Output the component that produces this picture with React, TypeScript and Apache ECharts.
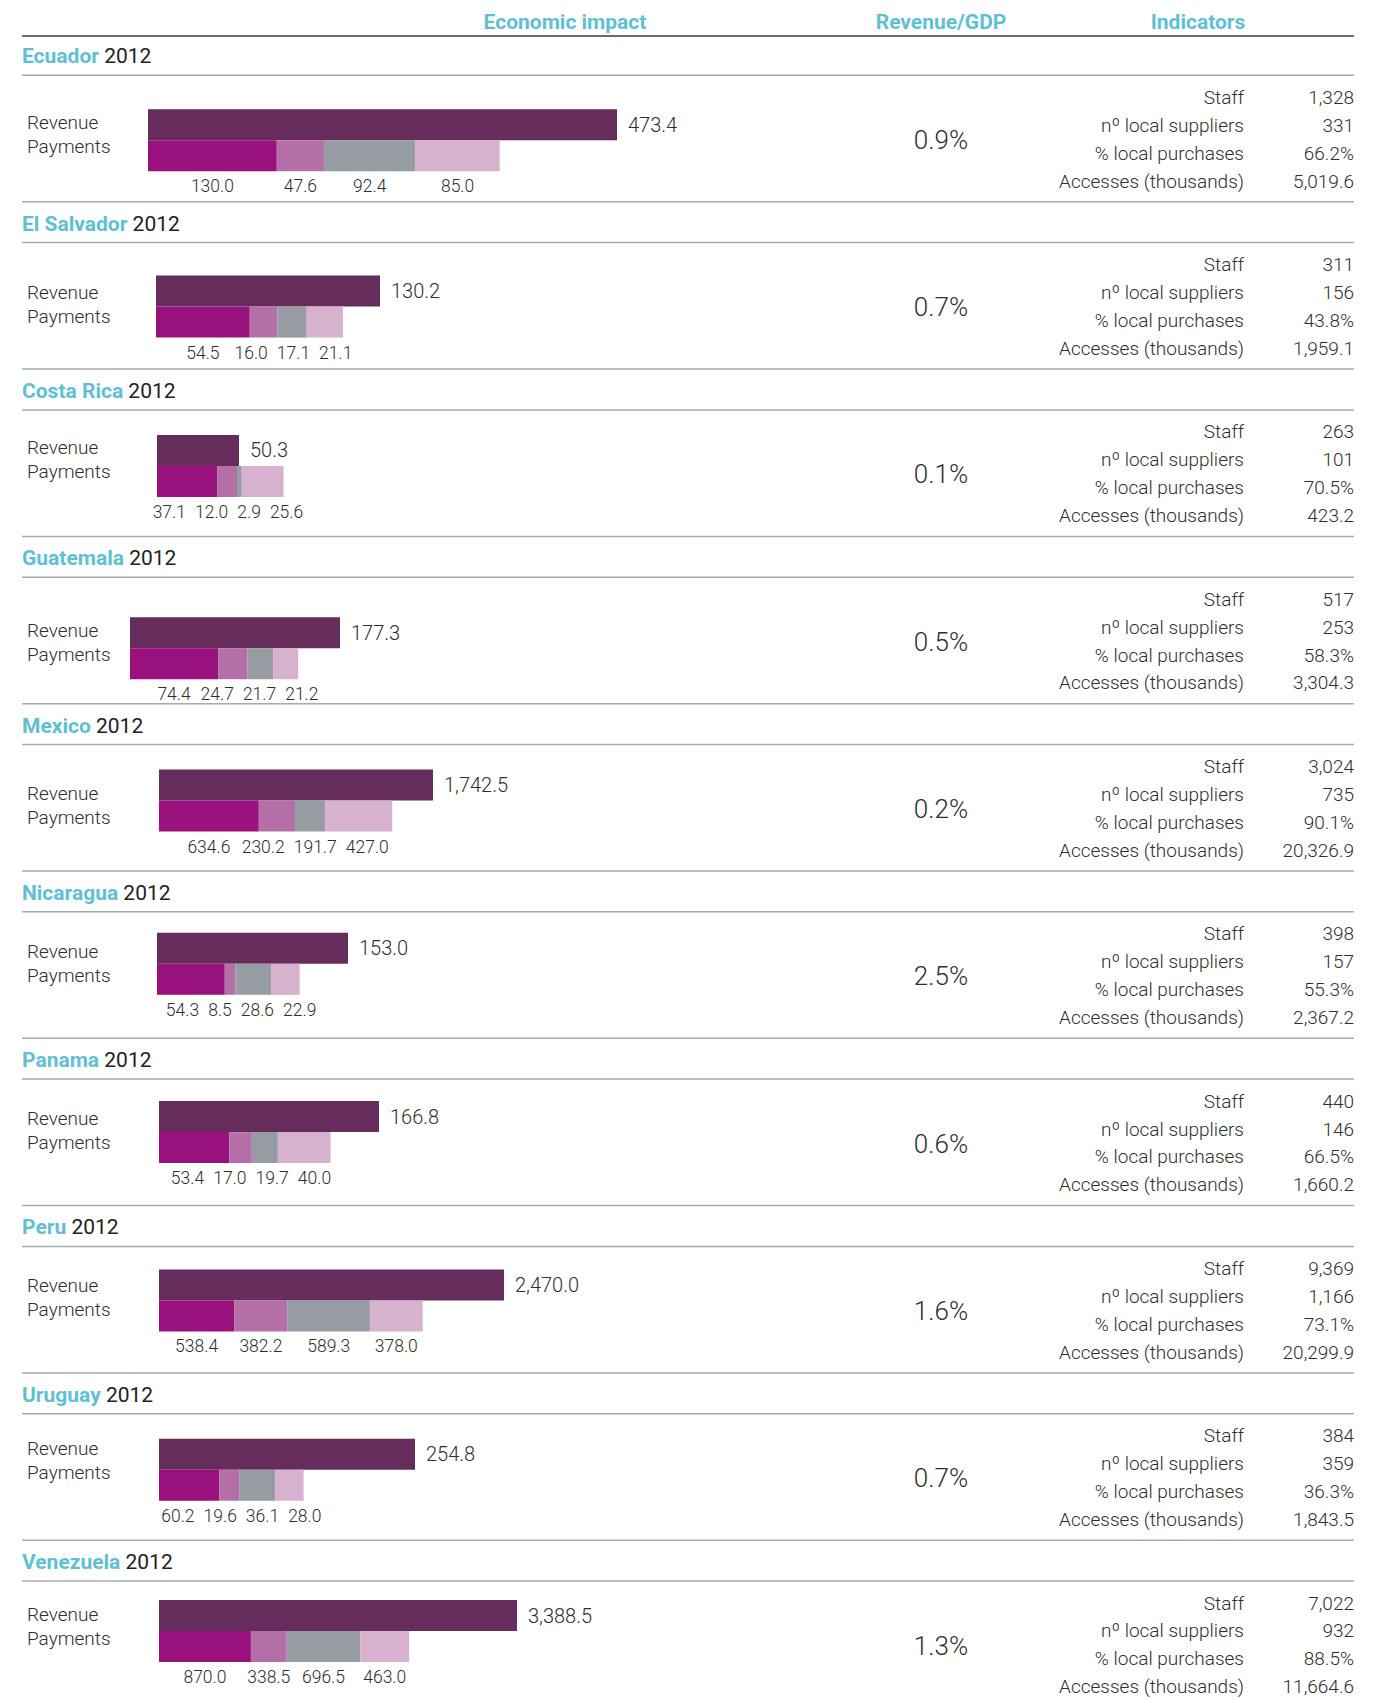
import React, { useEffect, useRef } from "react";
import * as echarts from "echarts";

// ---------------- DATA ----------------
const countries = ["Ecuador", "El Salvador", "Costa Rica", "Guatemala", "Mexico", "Nicaragua", "Panama", "Peru", "Uruguay", "Venezuela"];
const year = "2012";
const revenue = [473.4, 130.2, 50.3, 177.3, 1742.5, 153.0, 166.8, 2470.0, 254.8, 3388.5];
const paymentsA = [130.0, 54.5, 37.1, 74.4, 634.6, 54.3, 53.4, 538.4, 60.2, 870.0];
const paymentsB = [47.6, 16.0, 12.0, 24.7, 230.2, 8.5, 17.0, 382.2, 19.6, 338.5];
const paymentsC = [92.4, 17.1, 2.9, 21.7, 191.7, 28.6, 19.7, 589.3, 36.1, 696.5];
const paymentsD = [85.0, 21.1, 25.6, 21.2, 427.0, 22.9, 40.0, 378.0, 28.0, 463.0];
const revenueGdp = [0.9, 0.7, 0.1, 0.5, 0.2, 2.5, 0.6, 1.6, 0.7, 1.3];
const staff = [1328, 311, 263, 517, 3024, 398, 440, 9369, 384, 7022];
const localSuppliers = [331, 156, 101, 253, 735, 157, 146, 1166, 359, 932];
const localPurchases = [66.2, 43.8, 70.5, 58.3, 90.1, 55.3, 66.5, 73.1, 36.3, 88.5];
const accesses = [5019.6, 1959.1, 423.2, 3304.3, 20326.9, 2367.2, 1660.2, 20299.9, 1843.5, 11664.6];
const indicatorLabels = ["Staff", "nº local suppliers", "% local purchases", "Accesses (thousands)"];
const columnHeaders = ["Economic impact", "Revenue/GDP", "Indicators"];
const rowLabels = ["Revenue", "Payments"];

// ---------------- LAYOUT / STYLE ----------------
const PAGE_W = 1392;
const PAGE_H = 1699;
const PANEL_TOP = 56.3;
const PANEL_PITCH = 167.3;
const barLeft = [148, 156, 157, 130, 159, 157, 159, 159, 159, 159];
const barTopOff = [53, 52, 44, 59, 44, 40, 41, 42, 44, 38];
const revenueBarLen = [469, 224, 82, 210, 274, 191, 220, 345, 256, 358];
const rowLabelOff = [13, 17, 13, 13, 24, 19, 17, 16, 10, 14];
const GRID_W = 800;
const BAR_H = 31;
const FONT = "Roboto";
const TEXT = "#2e2e2e";
const CYAN = "#5fc0d4";
const REV_COLOR = "#662d5c";
const PAY_COLORS = ["#98117c", "#b470a6", "#969ca2", "#d6b2cf"];
const PAY_FONT = 17.5;

const fmt = (v: number, d: number) =>
  v.toLocaleString("en-US", { minimumFractionDigits: d, maximumFractionDigits: d });

let measureCtx: CanvasRenderingContext2D | null = null;
function textWidth(t: string, size: number) {
  if (!measureCtx) measureCtx = document.createElement("canvas").getContext("2d");
  if (!measureCtx) return t.length * size * 0.55;
  measureCtx.font = `300 ${size}px ${FONT}`;
  return measureCtx.measureText(t).width;
}

// spread overlapping labels horizontally, keeping each cluster centred on its segments
function spreadLabels(centers: number[], widths: number[], gap: number) {
  type Cl = { idx: number[]; x0: number };
  const clusters: Cl[] = [];
  const rel = (idx: number[]) => {
    const r: number[] = [0];
    for (let k = 1; k < idx.length; k++) r.push(r[k - 1] + widths[idx[k - 1]] / 2 + gap + widths[idx[k]] / 2);
    return r;
  };
  const place = (idx: number[]) => {
    const r = rel(idx);
    let s = 0;
    idx.forEach((j, k) => (s += centers[j] - r[k]));
    return s / idx.length;
  };
  for (let j = 0; j < centers.length; j++) {
    clusters.push({ idx: [j], x0: centers[j] });
    while (clusters.length > 1) {
      const b = clusters[clusters.length - 1];
      const a = clusters[clusters.length - 2];
      const ra = rel(a.idx);
      const lastA = a.idx[a.idx.length - 1];
      const rightA = a.x0 + ra[ra.length - 1] + widths[lastA] / 2;
      const leftB = b.x0 - widths[b.idx[0]] / 2;
      if (leftB - rightA >= gap) break;
      const idx = a.idx.concat(b.idx);
      clusters.splice(clusters.length - 2, 2, { idx, x0: place(idx) });
    }
  }
  const pos: number[] = new Array(centers.length);
  clusters.forEach((c) => {
    const r = rel(c.idx);
    c.idx.forEach((j, k) => (pos[j] = c.x0 + r[k]));
  });
  return pos;
}

export default function App() {
  const ref = useRef<HTMLDivElement>(null);
  useEffect(() => {
    document.body.style.margin = "0";
    const chart = echarts.init(ref.current!, null, { renderer: "svg" });

    const grids: any[] = [];
    const xAxes: any[] = [];
    const yAxes: any[] = [];
    const series: any[] = [];
    const graphics: any[] = [];

    const baseText = { fontFamily: FONT, fill: TEXT, fontWeight: 300 };

    // column headers
    const headerX = [565, 941, 1198];
    columnHeaders.forEach((h, k) =>
      graphics.push({
        type: "text",
        x: headerX[k],
        y: 22,
        style: { text: h, fontFamily: FONT, fontWeight: "bold", fontSize: 21, fill: CYAN, align: "center", verticalAlign: "middle" },
      })
    );
    graphics.push({ type: "line", shape: { x1: 22, y1: 36, x2: 1354, y2: 36 }, style: { stroke: "#3a3a3a", lineWidth: 1.5 } });

    countries.forEach((c, i) => {
      const H = PANEL_TOP + PANEL_PITCH * i;
      const top = H + barTopOff[i];
      const max = (revenue[i] * GRID_W) / revenueBarLen[i];
      const scale = revenueBarLen[i] / revenue[i];

      grids.push({ left: barLeft[i], top, width: GRID_W, height: BAR_H * 2 });
      xAxes.push({ type: "value", gridIndex: i, min: 0, max, show: false });
      yAxes.push({ type: "category", gridIndex: i, data: rowLabels, inverse: true, show: false });

      series.push({
        type: "bar",
        name: "Revenue",
        xAxisIndex: i,
        yAxisIndex: i,
        stack: "s" + i,
        barWidth: BAR_H,
        silent: true,
        data: [revenue[i], "-"],
        itemStyle: { color: REV_COLOR },
        label: {
          show: true,
          position: "right",
          distance: 11,
          formatter: () => fmt(revenue[i], 1),
          fontFamily: FONT,
          fontWeight: 300,
          fontSize: 20,
          color: TEXT,
        },
      });

      const pays = [paymentsA[i], paymentsB[i], paymentsC[i], paymentsD[i]];
      let cum = 0;
      const centers = pays.map((v) => {
        const cx = (cum + v / 2) * scale;
        cum += v;
        return cx;
      });
      const widths = pays.map((v) => textWidth(fmt(v, 1), PAY_FONT));
      const pos = spreadLabels(centers, widths, 9);

      pays.forEach((v, k) => {
        series.push({
          type: "bar",
          name: "Payments " + (k + 1),
          xAxisIndex: i,
          yAxisIndex: i,
          stack: "s" + i,
          barWidth: BAR_H,
          silent: true,
          data: ["-", v],
          itemStyle: { color: PAY_COLORS[k] },
          label: {
            show: true,
            position: "bottom",
            distance: 6,
            offset: [pos[k] - centers[k], 0],
            formatter: () => fmt(v, 1),
            fontFamily: FONT,
            fontWeight: 300,
            fontSize: PAY_FONT,
            color: TEXT,
          },
        });
      });

      // country header
      graphics.push({
        type: "text",
        x: 22,
        y: H,
        style: {
          text: `{a|${c}} {b|${year}}`,
          verticalAlign: "middle",
          rich: {
            a: { fontFamily: FONT, fontWeight: "bold", fontSize: 21, fill: CYAN },
            b: { fontFamily: FONT, fontWeight: 400, fontSize: 21, fill: "#222" },
          },
          fontSize: 21,
          fontFamily: FONT,
        },
      });
      graphics.push({ type: "line", shape: { x1: 22, y1: H + 19, x2: 1354, y2: H + 19 }, style: { stroke: "#a6abaf", lineWidth: 1.5 } });
      if (i < countries.length - 1)
        graphics.push({ type: "line", shape: { x1: 22, y1: H + 145.5, x2: 1354, y2: H + 145.5 }, style: { stroke: "#a6abaf", lineWidth: 1.5 } });

      // row labels
      rowLabels.forEach((t, k) =>
        graphics.push({
          type: "text",
          x: 27,
          y: top + rowLabelOff[i] + k * 24,
          style: { ...baseText, text: t, fontSize: 19, verticalAlign: "middle" },
        })
      );

      // revenue / GDP
      graphics.push({
        type: "text",
        x: 941,
        y: H + 83.5,
        style: { ...baseText, text: fmt(revenueGdp[i], 1) + "%", fontSize: 26, align: "center", verticalAlign: "middle" },
      });

      // indicators
      const vals = [fmt(staff[i], 0), fmt(localSuppliers[i], 0), fmt(localPurchases[i], 1) + "%", fmt(accesses[i], 1)];
      indicatorLabels.forEach((lab, k) => {
        const y = H + 41 + k * 27.9;
        graphics.push({ type: "text", x: 1244, y, style: { ...baseText, text: lab, fontSize: 19, align: "right", verticalAlign: "middle" } });
        graphics.push({ type: "text", x: 1354, y, style: { ...baseText, text: vals[k], fontSize: 19, align: "right", verticalAlign: "middle" } });
      });
    });

    chart.setOption({
      animation: false,
      backgroundColor: "#ffffff",
      grid: grids,
      xAxis: xAxes,
      yAxis: yAxes,
      series,
      graphic: graphics,
    });
    return () => chart.dispose();
  }, []);
  return <div ref={ref} style={{ width: PAGE_W, height: PAGE_H }} />;
}
